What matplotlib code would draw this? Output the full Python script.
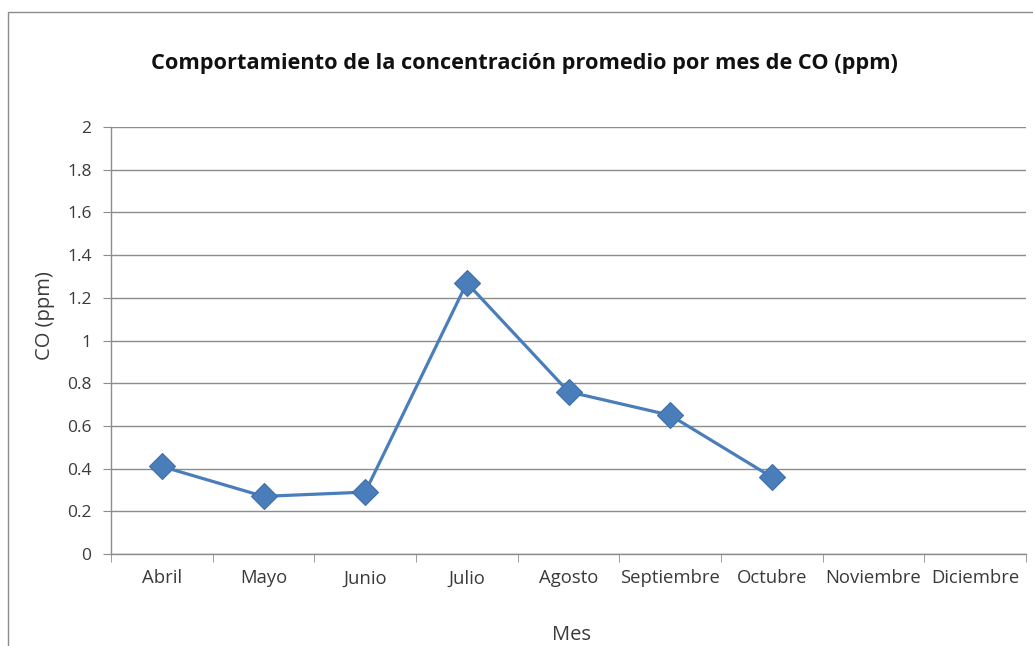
import matplotlib
matplotlib.use('Agg')
import matplotlib.pyplot as plt
from matplotlib.patches import Rectangle

# Datos
meses = ['Abril', 'Mayo', 'Junio', 'Julio', 'Agosto', 'Septiembre',
         'Octubre', 'Noviembre', 'Diciembre']
meses_con_dato = ['Abril', 'Mayo', 'Junio', 'Julio', 'Agosto', 'Septiembre', 'Octubre']
co_ppm = [0.41, 0.27, 0.29, 1.27, 0.76, 0.65, 0.36]
yticks = [0, 0.2, 0.4, 0.6, 0.8, 1, 1.2, 1.4, 1.6, 1.8, 2]
ytick_labels = ['0', '0.2', '0.4', '0.6', '0.8', '1', '1.2', '1.4', '1.6', '1.8', '2']

plt.rcParams['font.family'] = ['Open Sans', 'DejaVu Sans']

fig = plt.figure(figsize=(10.33, 6.46), dpi=100)
ax = fig.add_axes([0.1075, 0.1424, 0.8857, 0.661])

# marco del grafico
fig.patches.append(Rectangle((8 / 1033, -0.1), 1.2, 1 - 12 / 646 + 0.1,
                             transform=fig.transFigure, fill=False,
                             edgecolor='#8c8c8c', linewidth=1))

x_pos = [meses.index(m) for m in meses_con_dato]
ax.plot(x_pos, co_ppm, color='#4A7EBB', linewidth=2.3, marker='D',
        markersize=13.5, markerfacecolor='#4A7EBB', markeredgecolor='#3F6FA8',
        markeredgewidth=0.8, zorder=3)

ax.set_xlim(-0.5, len(meses) - 0.5)
ax.set_ylim(0, 2)
ax.set_yticks(yticks)
ax.set_yticklabels(ytick_labels)
ax.set_xticks(range(len(meses)))
ax.set_xticklabels(meses)
ax.set_xticks([i - 0.5 for i in range(len(meses) + 1)], minor=True)

ax.grid(axis='y', color='#8c8c8c', linewidth=1)
ax.set_axisbelow(True)
for s in ['top', 'right']:
    ax.spines[s].set_visible(False)
for s in ['left', 'bottom']:
    ax.spines[s].set_color('#8c8c8c')
    ax.spines[s].set_linewidth(1)

ax.tick_params(axis='y', length=6, color='#8c8c8c', labelsize=12.5,
               labelcolor='#3a3a3a', pad=8)
ax.tick_params(axis='x', which='major', length=0, labelsize=13.3,
               labelcolor='#3a3a3a', pad=11)
ax.tick_params(axis='x', which='minor', length=6, color='#8c8c8c')

fig.text(45 / 1033, 1 - 316 / 646, 'CO (ppm)', rotation=90, ha='center', va='center',
         fontsize=14.5, color='#3a3a3a')
fig.text(572 / 1033, 1 - 640 / 646, 'Mes', ha='center', va='baseline',
         fontsize=14.5, color='#3a3a3a')

fig.text(0.508, 1 - 64 / 646, 'Comportamiento de la concentración promedio por mes de CO (ppm)',
         ha='center', va='center', fontsize=15.7, fontweight='bold', color='#111111')

fig.savefig('out.png', dpi=100)
